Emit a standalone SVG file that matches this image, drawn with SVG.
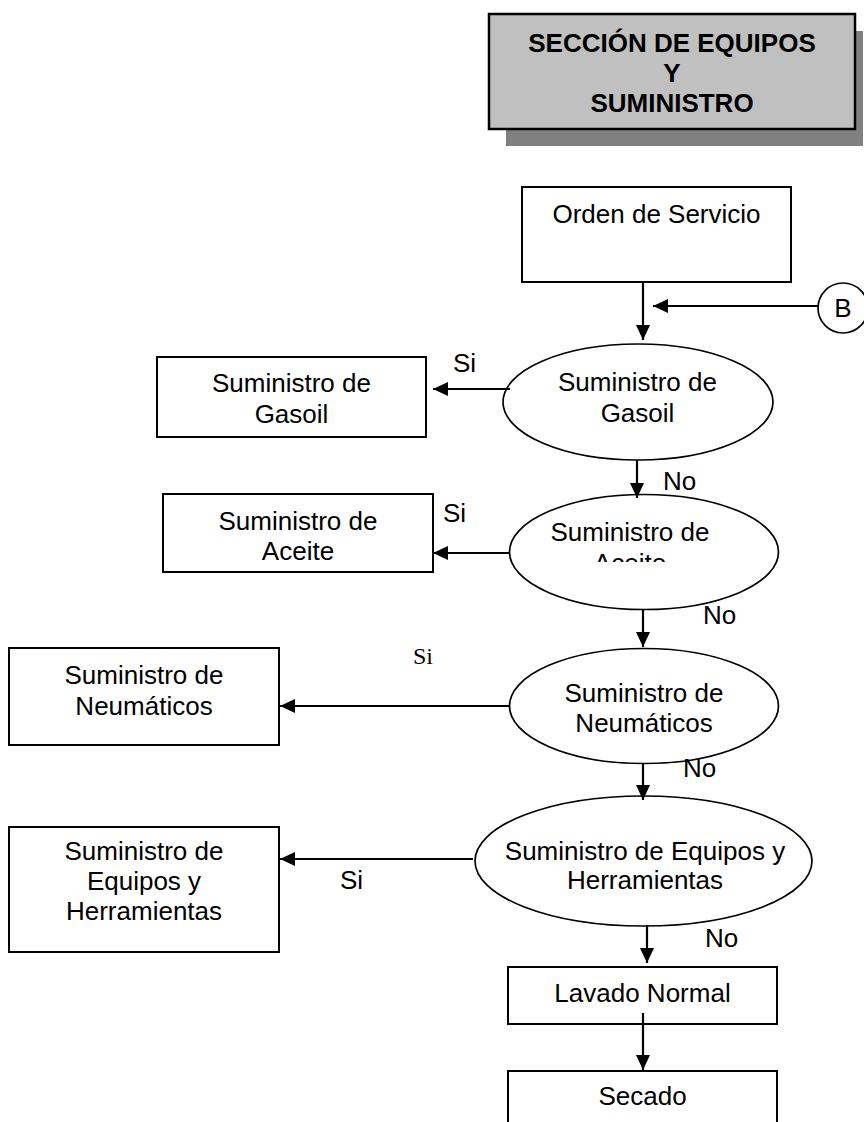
<svg xmlns="http://www.w3.org/2000/svg" width="864" height="1122" viewBox="0 0 864 1122">
  <style>
    .box { fill: #ffffff; stroke: #000000; stroke-width: 2; }
    .dec { fill: #ffffff; stroke: #000000; stroke-width: 1.7; }
    .txt { font-family: "Liberation Sans", Arial, sans-serif; font-size: 26px; fill: #000000; text-anchor: middle; }
    .lbl { font-family: "Liberation Sans", Arial, sans-serif; font-size: 26px; fill: #000000; }
    .lbl-serif { font-family: "Liberation Serif", "Times New Roman", serif; font-size: 24px; fill: #000000; }
    .ttl { font-family: "Liberation Sans", Arial, sans-serif; font-size: 26px; font-weight: bold; fill: #000000; text-anchor: middle; }
    .flow { fill: none; stroke: #000000; stroke-width: 2.2; marker-end: url(#arrow); }
  </style>
  <defs>
    <marker id="arrow" markerUnits="userSpaceOnUse" markerWidth="16" markerHeight="15" refX="15" refY="7" orient="auto">
      <path d="M0,0 L15,7 L0,14 Z" fill="#000000"/>
    </marker>
    <clipPath id="clip-aceite">
      <rect x="520" y="500" width="240" height="62"/>
    </clipPath>
  </defs>

  <rect width="864" height="1122" fill="#ffffff"/>

  <!-- section heading with drop shadow -->
  <g id="titulo">
    <rect x="506" y="31" width="357" height="115" fill="#808080"/>
    <rect x="489" y="14" width="366" height="115" fill="#c0c0c0" stroke="#000000" stroke-width="2.5"/>
    <text class="ttl" x="672" y="52">SECCIÓN DE EQUIPOS</text>
    <text class="ttl" x="672" y="82">Y</text>
    <text class="ttl" x="672" y="112">SUMINISTRO</text>
  </g>

  <g id="orden-servicio">
    <rect class="box" x="522" y="187" width="269" height="95"/>
    <text class="txt" x="656.5" y="223">Orden de Servicio</text>
  </g>

  <g id="conector-b">
    <circle class="dec" cx="843" cy="308" r="25"/>
    <text class="txt" x="843" y="317">B</text>
  </g>

  <g id="dec-gasoil">
    <ellipse class="dec" cx="638" cy="402" rx="135" ry="58"/>
    <text class="txt" x="637.5" y="391">Suministro de</text>
    <text class="txt" x="637.5" y="422">Gasoil</text>
  </g>

  <g id="sum-gasoil">
    <rect class="box" x="157" y="357" width="269" height="80"/>
    <text class="txt" x="291.5" y="392">Suministro de</text>
    <text class="txt" x="291.5" y="423">Gasoil</text>
  </g>

  <g id="dec-aceite">
    <ellipse class="dec" cx="644" cy="552" rx="134.5" ry="57.5"/>
    <g clip-path="url(#clip-aceite)">
      <text class="txt" x="630" y="541">Suministro de</text>
      <text class="txt" x="630" y="572">Aceite</text>
    </g>
  </g>

  <g id="sum-aceite">
    <rect class="box" x="163" y="494" width="270" height="78"/>
    <text class="txt" x="298" y="530">Suministro de</text>
    <text class="txt" x="298" y="560">Aceite</text>
  </g>

  <g id="dec-neumaticos">
    <ellipse class="dec" cx="644" cy="706" rx="134.5" ry="57.5"/>
    <text class="txt" x="644" y="702">Suministro de</text>
    <text class="txt" x="644" y="732">Neumáticos</text>
  </g>

  <g id="sum-neumaticos">
    <rect class="box" x="9" y="648" width="270" height="97"/>
    <text class="txt" x="144" y="684">Suministro de</text>
    <text class="txt" x="144" y="715">Neumáticos</text>
  </g>

  <g id="dec-equipos">
    <ellipse class="dec" cx="643.5" cy="861" rx="168.5" ry="65"/>
    <text class="txt" x="645" y="860">Suministro de Equipos y</text>
    <text class="txt" x="645" y="889">Herramientas</text>
  </g>

  <g id="sum-equipos">
    <rect class="box" x="9" y="827" width="270" height="125"/>
    <text class="txt" x="144" y="860">Suministro de</text>
    <text class="txt" x="144" y="890">Equipos y</text>
    <text class="txt" x="144" y="920">Herramientas</text>
  </g>

  <g id="lavado-normal">
    <rect class="box" x="508" y="967" width="269" height="57"/>
    <text class="txt" x="642.5" y="1002">Lavado Normal</text>
  </g>

  <g id="secado">
    <rect class="box" x="508" y="1071" width="269" height="60"/>
    <text class="txt" x="642.5" y="1105">Secado</text>
  </g>

  <!-- connectors -->
  <g id="conectores">
    <line class="flow" x1="643" y1="282" x2="643" y2="340"/>
    <line class="flow" x1="818" y1="306" x2="653" y2="306"/>
    <line class="flow" x1="510" y1="389" x2="433" y2="389"/>
    <line class="flow" x1="637" y1="460" x2="637" y2="498"/>
    <line class="flow" x1="510" y1="553" x2="433" y2="553"/>
    <line class="flow" x1="643" y1="609" x2="643" y2="647"/>
    <line class="flow" x1="509" y1="706" x2="280" y2="706"/>
    <line class="flow" x1="643" y1="763" x2="643" y2="800"/>
    <line class="flow" x1="473" y1="859" x2="280" y2="859"/>
    <line class="flow" x1="647" y1="925" x2="647" y2="963"/>
    <line class="flow" x1="643" y1="1013" x2="643" y2="1070"/>
  </g>

  <!-- branch labels -->
  <g id="etiquetas">
    <text class="lbl" x="453" y="372">Si</text>
    <text class="lbl" x="443" y="522">Si</text>
    <text class="lbl-serif" x="413" y="664">Si</text>
    <text class="lbl" x="340" y="889">Si</text>
    <text class="lbl" x="663" y="490">No</text>
    <text class="lbl" x="703" y="624">No</text>
    <text class="lbl" x="683" y="777">No</text>
    <text class="lbl" x="705" y="947">No</text>
  </g>
</svg>
